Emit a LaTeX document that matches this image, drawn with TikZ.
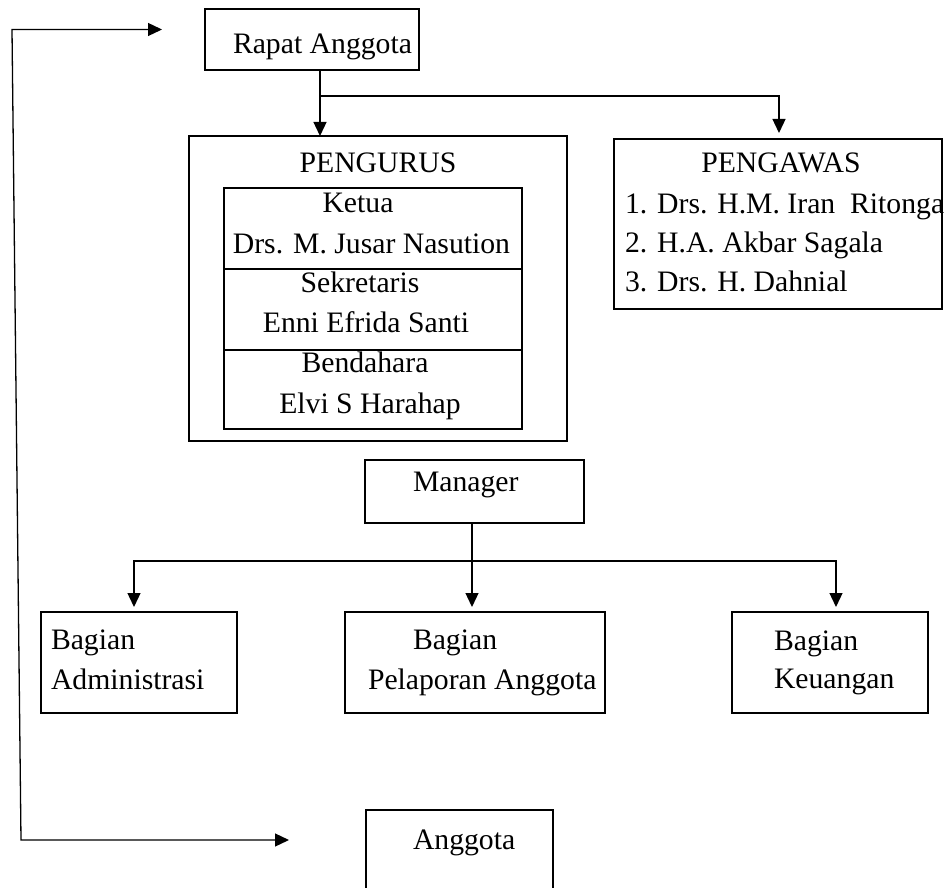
\documentclass[tikz,border=0pt]{standalone}
\usepackage{fontspec}
\setmainfont{Liberation Serif}
\usetikzlibrary{arrows.meta}
\tikzset{
  box/.style={draw, line width=1.3pt, rectangle, inner sep=0pt, outer sep=0pt},
  lbl/.style={inner sep=0pt, outer sep=0pt, font=\fontsize{29.7}{36}\selectfont},
  conn/.style={line width=1.3pt},
  arr/.style={line width=1.3pt, -{Triangle[length=14pt,width=13pt]}},
  darr/.style={line width=1.3pt, {Triangle[length=14pt,width=13pt]}-{Triangle[length=14pt,width=13pt]}}
}
\begin{document}
\begin{tikzpicture}[x=1pt,y=-1pt]
\useasboundingbox (0,0) rectangle (946,888);
% boxes
\node[box, minimum width=214, minimum height=61] (rapat) at (312,39.5) {};
\node[box, minimum width=378, minimum height=305] (pengurus) at (378,288.5) {};
\node[box, minimum width=298, minimum height=81] (ketua) at (373,228.5) {};
\node[box, minimum width=298, minimum height=81] (sekre) at (373,309.5) {};
\node[box, minimum width=298, minimum height=79] (benda) at (373,389.5) {};
\node[box, minimum width=328, minimum height=170] (pengawas) at (778,224) {};
\node[box, minimum width=219, minimum height=63] (manager) at (474.5,491.5) {};
\node[box, minimum width=196, minimum height=101] (adm) at (139,662.5) {};
\node[box, minimum width=260, minimum height=101] (pel) at (475,662.5) {};
\node[box, minimum width=196, minimum height=101] (keu) at (830,662.5) {};
\node[rectangle, inner sep=0pt, outer sep=0pt, minimum width=187, minimum height=80] (anggota) at (459.5,850) {};
\draw[line width=1.3pt] (anggota.south west) -- (anggota.north west) -- (anggota.north east) -- (anggota.south east);
% texts
\node[lbl, anchor=base west] (tRapat) at (233,54) {Rapat Anggota};
\node[lbl, anchor=base] (tPengurus) at (378,173) {PENGURUS};
\node[lbl, anchor=base] (tKetua) at (358,213) {Ketua};
\node[lbl, anchor=base] (tKetuaN) at (371.5,253) {Drs. M. Jusar Nasution};
\node[lbl, anchor=base] (tSekre) at (360,292) {Sekretaris};
\node[lbl, anchor=base] (tSekreN) at (366,332) {Enni Efrida Santi};
\node[lbl, anchor=base] (tBenda) at (365,372) {Bendahara};
\node[lbl, anchor=base] (tBendaN) at (370,413) {Elvi S Harahap};
\node[lbl, anchor=base] (tPengawas) at (781,173) {PENGAWAS};
\node[lbl, anchor=base west] (tP1) at (625,214) {1. Drs. H.M. Iran~~Ritonga};
\node[lbl, anchor=base west] (tP2) at (625,252) {2. H.A. Akbar Sagala};
\node[lbl, anchor=base west] (tP3) at (625,291) {3. Drs. H. Dahnial};
\node[lbl, anchor=base west] (tManager) at (413,491) {Manager};
\node[lbl, anchor=base west] (tAdm1) at (51,649) {Bagian};
\node[lbl, anchor=base west] (tAdm2) at (51,689) {Administrasi};
\node[lbl, anchor=base west] (tPel1) at (413,649) {Bagian};
\node[lbl, anchor=base west] (tPel2) at (368,689) {Pelaporan Anggota};
\node[lbl, anchor=base west] (tKeu1) at (774,650) {Bagian};
\node[lbl, anchor=base west] (tKeu2) at (774,688) {Keuangan};
\node[lbl, anchor=base west] (tAnggota) at (413,849) {Anggota};
% connectors
\coordinate (j1) at (320,96);
\coordinate (tipPengawas) at (779,133);
\draw[arr] (rapat.south -| j1) -- (pengurus.north -| j1);
\draw[arr] (j1) -| (tipPengawas);
\coordinate (j2) at (472,561);
\coordinate (tipAdm) at (134,607);
\coordinate (tipPel) at (472,607);
\coordinate (tipKeu) at (836,607);
\draw[conn] (manager.south -| j2) -- (j2);
\draw[arr] (j2) -| (tipAdm);
\draw[arr] (j2) -- (tipPel);
\draw[arr] (j2) -| (tipKeu);
% feedback loop
\coordinate (tipRapat) at (162,29.5);
\coordinate (cTop) at (12,29.5);
\coordinate (cBot) at (21,840);
\coordinate (tipAnggota) at (289,840);
\draw[darr, line join=miter] (tipRapat) -- (cTop) -- (cBot) -- (tipAnggota);
\end{tikzpicture}
\end{document}
